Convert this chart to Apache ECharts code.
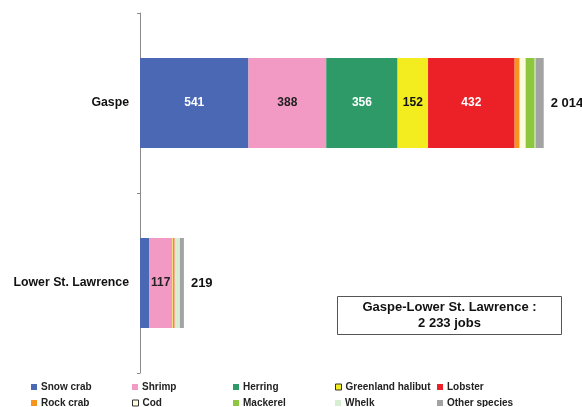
<!DOCTYPE html>
<html>
<head>
<meta charset="utf-8">
<script src="https://cdn.jsdelivr.net/npm/echarts@6/dist/echarts.min.js"></script>
<style>
  html, body { margin: 0; padding: 0; background: #fff; }
  #chart { width: 582px; height: 407px; }
</style>
</head>
<body>
<div id="chart"></div>
<script>
// Fishing jobs by species, per region
const regions = ['Gaspe', 'Lower St. Lawrence'];
const species = ['Snow crab', 'Shrimp', 'Herring', 'Greenland halibut', 'Lobster',
                 'Rock crab', 'Cod', 'Mackerel', 'Whelk', 'Other species'];
const gaspe = [541, 388, 356, 152, 432, 25, 30, 45, 4, 41];
const lowerStLawrence = [45, 117, 0, 5, 5, 1, 1, 0, 25, 20];
const regionTotals = [2014, 219];
const overallTotal = 2233;

const colors = ['#4a68b4', '#f39ac4', '#2e9a68', '#f3ec1e', '#ec2027',
                '#f7941d', '#fffbe0', '#8dc63f', '#d8eed2', '#a3a3a3'];
const labelColors = ['#ffffff', '#222222', '#ffffff', '#111111', '#ffffff',
                     '#111111', '#111111', '#111111', '#111111', '#111111'];
const outlined = { 'Greenland halibut': true, 'Cod': true };

const FONT = '"Liberation Sans", Arial, sans-serif';

function fmt(n) {
  return String(n).replace(/\B(?=(\d{3})+(?!\d))/g, ' ');
}

const chart = echarts.init(document.getElementById('chart'), null, { renderer: 'canvas' });

const series = species.map((name, i) => {
  const isLast = i === species.length - 1;
  return {
    name: name,
    type: 'bar',
    stack: 'jobs',
    barWidth: '50%',
    itemStyle: { color: colors[i] },
    data: [gaspe[i], lowerStLawrence[i]].map(v => ({
      value: v,
      label: {
        show: v >= 100,
        position: 'inside',
        color: labelColors[i],
        fontSize: 12,
        fontWeight: 'bold',
        fontFamily: FONT,
        formatter: p => fmt(p.value)
      }
    })),
    emphasis: { disabled: true }
  };
});

// Region totals written just past the end of each bar
series.push({
  name: 'total',
  type: 'bar',
  stack: 'jobs',
  barWidth: '50%',
  itemStyle: { color: 'transparent' },
  data: regionTotals.map(() => 0),
  label: {
    show: true,
    position: 'right',
    distance: 7,
    color: '#111',
    fontSize: 13,
    fontWeight: 'bold',
    fontFamily: FONT,
    formatter: p => fmt(regionTotals[p.dataIndex])
  },
  emphasis: { disabled: true },
  silent: true
});

// Legend: two rows of five, fixed column positions
const legendCols = [31, 132, 233, 335, 437];
const legendRows = [382, 398];
const legends = species.map((name, i) => ({
  data: [{
    name: name,
    itemStyle: outlined[name] ? { borderColor: '#333', borderWidth: 1 } : {}
  }],
  left: legendCols[i % 5],
  top: legendRows[Math.floor(i / 5)],
  padding: 0,
  icon: 'rect',
  itemWidth: 6,
  itemHeight: 6,
  selectedMode: false,
  textStyle: { fontSize: 10, fontWeight: 'bold', color: '#222', fontFamily: FONT, padding: [0, 0, 0, -1] }
}));

chart.setOption({
  animation: false,
  backgroundColor: '#ffffff',
  grid: { left: 140, right: 1, top: 13, bottom: 34 },
  xAxis: {
    type: 'value',
    min: 0,
    max: 2200,
    show: false
  },
  yAxis: {
    type: 'category',
    inverse: true,
    data: regions,
    axisLine: { show: true, lineStyle: { color: '#8a8a8a', width: 1 } },
    axisTick: { show: true, length: 3, lineStyle: { color: '#8a8a8a' } },
    axisLabel: {
      margin: 11,
      fontSize: 12.3,
      fontWeight: 'bold',
      color: '#111',
      fontFamily: FONT
    }
  },
  legend: legends,
  series: series,
  graphic: [
    {
      type: 'rect',
      shape: { x: 337.5, y: 296.5, width: 224, height: 38 },
      style: { fill: '#ffffff', stroke: '#555555', lineWidth: 1 },
      z: 10
    },
    {
      type: 'text',
      x: 449.5,
      y: 315.5,
      style: {
        text: 'Gaspe-Lower St. Lawrence :\n' + fmt(overallTotal) + ' jobs',
        fill: '#111',
        font: 'bold 13px ' + FONT,
        align: 'center',
        verticalAlign: 'middle',
        lineHeight: 16
      },
      z: 11
    }
  ]
});
</script>
</body>
</html>
